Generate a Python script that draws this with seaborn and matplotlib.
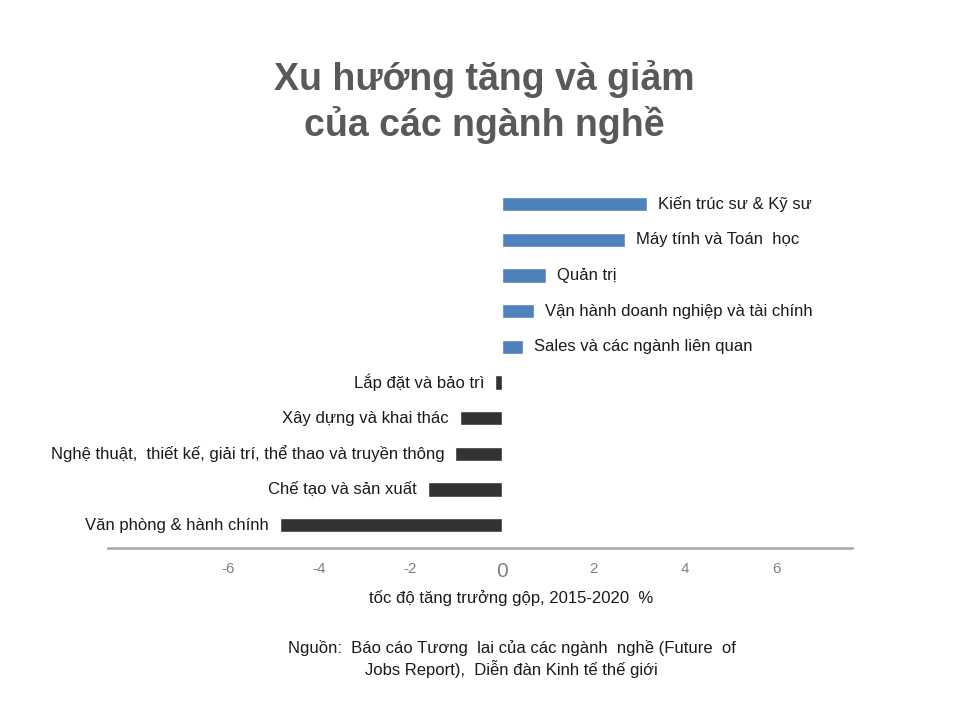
import numpy as np
import pandas as pd
import matplotlib
matplotlib.use("Agg")
import matplotlib.pyplot as plt
import seaborn as sns

# data (gross growth 2015-2020, %)
jobs = [
    "Kiến trúc sư & Kỹ sư",
    "Máy tính và Toán  học",
    "Quản trị",
    "Vận hành doanh nghiệp và tài chính",
    "Sales và các ngành liên quan",
    "Lắp đặt và bảo trì",
    "Xây dựng và khai thác",
    "Nghệ thuật,  thiết kế, giải trí, thể thao và truyền thông",
    "Chế tạo và sản xuất",
    "Văn phòng & hành chính",
]
growth = [3.18, 2.69, 0.97, 0.70, 0.46, -0.15, -0.92, -1.02, -1.62, -4.86]
ticks = [-6, -4, -2, 0, 2, 4, 6]

sns.set_theme(style="white")
plt.rcParams['font.family'] = ['Liberation Sans', 'DejaVu Sans']

df = pd.DataFrame({"job": jobs, "growth": growth})
df["sign"] = np.where(df["growth"] >= 0, "up", "down")

fig = plt.figure(figsize=(9.6, 7.2), dpi=100)
ax = fig.add_axes([0.1125, 0.2389, 0.775, 0.507])

sns.barplot(data=df, x="growth", y="job", hue="sign",
            palette={"up": "#4F81BD", "down": "#333333"}, saturation=1,
            width=0.4, dodge=False, legend=False, ax=ax)

for i, (name, val) in enumerate(zip(jobs, growth)):
    if val >= 0:
        ax.annotate(name, (val, i), xytext=(8, 0), textcoords="offset points",
                    ha="left", va="center", fontsize=12, color="#1a1a1a")
    else:
        ax.annotate(name, (val, i), xytext=(-8, 0), textcoords="offset points",
                    ha="right", va="center", fontsize=12, color="#1a1a1a")

ax.set_xlim(-8.62, 7.66)
ax.set_ylim(9.645, -0.6)
ax.set_yticks([])
ax.set_ylabel("")
ax.set_xlabel("")
ax.set_xticks(ticks)
ax.set_xticklabels([str(t) for t in ticks])
ax.tick_params(axis="x", length=0, pad=10, labelsize=11, labelcolor="#808080")
for lbl in ax.get_xticklabels():
    if lbl.get_text() == "0":
        lbl.set_fontsize(15)
for s in ["top", "left", "right"]:
    ax.spines[s].set_visible(False)
ax.spines["bottom"].set_color("#A6A6A6")
ax.spines["bottom"].set_linewidth(1.8)

fig.text(0.504, 0.858, "Xu hướng tăng và giảm\ncủa các ngành nghề",
         ha="center", va="center", fontsize=27, fontweight="bold",
         color="#595959", linespacing=1.25)
fig.text(0.532, 0.169, "tốc độ tăng trưởng gộp, 2015-2020  %",
         ha="center", va="center", fontsize=12, color="#1a1a1a")
fig.text(0.533, 0.085,
         "Nguồn:  Báo cáo Tương  lai của các ngành  nghề (Future  of\nJobs Report),  Diễn đàn Kinh tế thế giới",
         ha="center", va="center", fontsize=12, color="#1a1a1a", linespacing=1.3)

plt.savefig("out.png", dpi=100)
